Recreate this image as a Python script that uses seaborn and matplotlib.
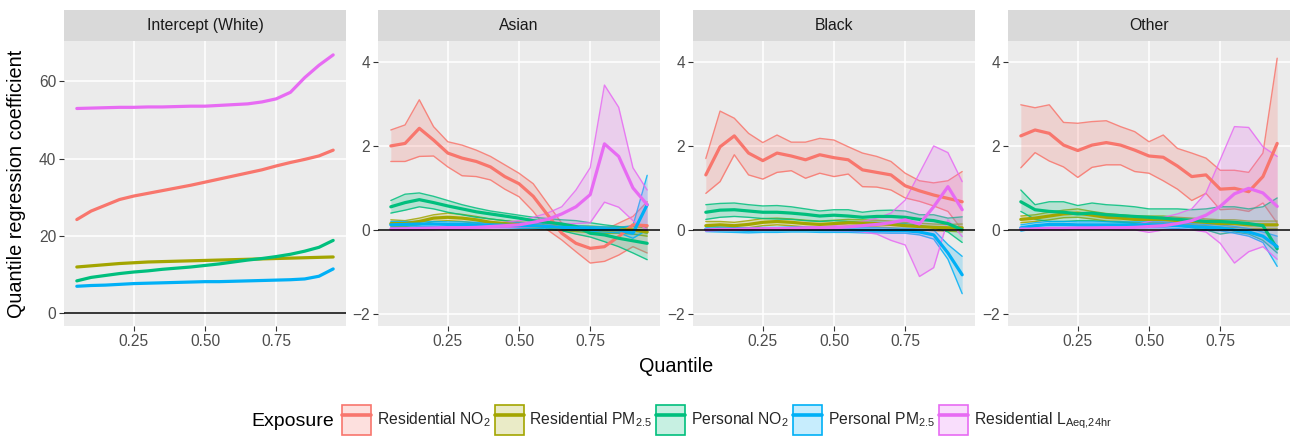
import numpy as np
import pandas as pd
import matplotlib
matplotlib.use("Agg")
import matplotlib.pyplot as plt
import seaborn as sns
from matplotlib.patches import Patch
from matplotlib.lines import Line2D
from matplotlib.legend_handler import HandlerTuple

# ---------------- data ----------------
quantiles = [0.05, 0.10, 0.15, 0.20, 0.25, 0.30, 0.35, 0.40, 0.45, 0.50,
             0.55, 0.60, 0.65, 0.70, 0.75, 0.80, 0.85, 0.90, 0.95]

facets = ["Intercept (White)", "Asian", "Black", "Other"]
exposures = ["Residential NO2", "Residential PM2.5", "Personal NO2",
             "Personal PM2.5", "Residential LAeq,24hr"]
legend_labels = ["Residential NO$_{2}$", "Residential PM$_{2.5}$", "Personal NO$_{2}$",
                 "Personal PM$_{2.5}$", "Residential L$_{Aeq{,}24hr}$"]
colors = ["#F8766D", "#A3A500", "#00BF7D", "#00B0F6", "#E76BF3"]

# Intercept (White) - lines only
white_res_no2 = [24.2, 26.4, 27.9, 29.4, 30.3, 31.0, 31.7, 32.4, 33.1, 33.9,
                 34.7, 35.5, 36.3, 37.1, 38.1, 39.0, 39.8, 40.7, 42.2]
white_res_pm = [11.9, 12.2, 12.5, 12.8, 13.0, 13.2, 13.3, 13.4, 13.5, 13.6,
                13.7, 13.8, 13.9, 14.0, 14.1, 14.2, 14.3, 14.4, 14.5]
white_per_no2 = [8.3, 9.2, 9.7, 10.2, 10.6, 10.9, 11.3, 11.6, 11.9, 12.3,
                 12.7, 13.2, 13.7, 14.1, 14.6, 15.2, 16.0, 17.0, 18.8]
white_per_pm = [6.9, 7.1, 7.2, 7.4, 7.6, 7.7, 7.8, 7.9, 8.0, 8.1,
                8.1, 8.2, 8.3, 8.4, 8.5, 8.6, 8.8, 9.5, 11.4]
white_laeq = [53.0, 53.1, 53.2, 53.3, 53.3, 53.4, 53.4, 53.5, 53.6, 53.6,
              53.8, 54.0, 54.2, 54.7, 55.5, 57.2, 61.0, 64.2, 66.9]

# Asian
asian_res_no2 = [2.0, 2.06, 2.42, 2.14, 1.83, 1.71, 1.63, 1.5, 1.27, 1.1,
                 0.8, 0.36, -0.08, -0.32, -0.44, -0.40, -0.16, 0.12, 0.1]
asian_res_no2_hi = [2.38, 2.5, 3.1, 2.46, 2.1, 2.02, 1.9, 1.75, 1.55, 1.35,
                    1.1, 0.63, 0.16, 0.02, 0.0, 0.0, 0.16, 0.32, 0.67]
asian_res_no2_lo = [1.63, 1.63, 1.75, 1.76, 1.5, 1.29, 1.27, 1.19, 0.97, 0.79,
                    0.44, 0.0, -0.24, -0.52, -0.79, -0.75, -0.6, -0.4, -0.55]
asian_res_pm = [0.15, 0.15, 0.2, 0.28, 0.3, 0.28, 0.24, 0.18, 0.15, 0.12,
                0.1, 0.08, 0.05, 0.03, 0.02, 0.0, 0.0, 0.0, -0.05]
asian_res_pm_hi = [0.24, 0.22, 0.28, 0.36, 0.4, 0.37, 0.32, 0.26, 0.22, 0.19,
                   0.17, 0.15, 0.12, 0.1, 0.09, 0.07, 0.07, 0.08, 0.05]
asian_res_pm_lo = [0.08, 0.08, 0.12, 0.2, 0.22, 0.2, 0.16, 0.11, 0.08, 0.05,
                   0.03, 0.01, -0.02, -0.04, -0.06, -0.08, -0.08, -0.1, -0.15]
asian_per_no2 = [0.55, 0.65, 0.72, 0.65, 0.57, 0.5, 0.43, 0.38, 0.33, 0.28,
                 0.22, 0.18, 0.14, 0.08, -0.08, -0.12, -0.2, -0.26, -0.32]
asian_per_no2_hi = [0.7, 0.85, 0.88, 0.8, 0.7, 0.6, 0.52, 0.45, 0.4, 0.35,
                    0.3, 0.27, 0.24, 0.22, 0.17, 0.12, 0.08, 0.0, -0.08]
asian_per_no2_lo = [0.4, 0.47, 0.55, 0.5, 0.42, 0.36, 0.3, 0.26, 0.22, 0.17,
                    0.12, 0.05, -0.02, -0.1, -0.17, -0.28, -0.4, -0.55, -0.71]
asian_per_pm = [0.12, 0.13, 0.14, 0.14, 0.13, 0.13, 0.12, 0.12, 0.11, 0.1,
                0.1, 0.08, 0.06, 0.05, 0.03, 0.02, 0.0, -0.08, 0.6]
asian_per_pm_hi = [0.2, 0.2, 0.2, 0.2, 0.19, 0.19, 0.18, 0.18, 0.17, 0.16,
                   0.16, 0.14, 0.12, 0.1, 0.08, 0.07, 0.06, 0.1, 1.3]
asian_per_pm_lo = [0.05, 0.06, 0.08, 0.08, 0.07, 0.07, 0.06, 0.06, 0.05, 0.04,
                   0.04, 0.02, 0.0, -0.01, -0.03, -0.05, -0.07, -0.2, 0.0]
asian_laeq = [0.02, 0.02, 0.03, 0.03, 0.04, 0.05, 0.06, 0.08, 0.1, 0.12,
              0.18, 0.25, 0.38, 0.55, 0.84, 2.05, 1.75, 1.0, 0.6]
asian_laeq_hi = [0.04, 0.05, 0.06, 0.07, 0.08, 0.1, 0.12, 0.15, 0.18, 0.22,
                 0.3, 0.4, 0.55, 0.95, 1.48, 3.45, 2.92, 1.48, 0.95]
asian_laeq_lo = [0.0, 0.0, 0.0, 0.01, 0.02, 0.02, 0.03, 0.04, 0.05, 0.06,
                 0.08, 0.1, 0.14, 0.15, 0.17, 0.66, 0.54, 0.22, 0.0]

# Black
black_res_no2 = [1.31, 1.98, 2.24, 1.83, 1.65, 1.83, 1.76, 1.67, 1.79, 1.72,
                 1.67, 1.43, 1.37, 1.31, 1.05, 0.93, 0.83, 0.75, 0.67]
black_res_no2_hi = [1.7, 2.83, 2.66, 2.3, 2.08, 2.26, 2.09, 2.09, 2.18, 2.14,
                    1.98, 1.83, 1.75, 1.63, 1.35, 1.17, 1.12, 1.17, 1.39]
black_res_no2_lo = [0.87, 1.15, 1.79, 1.31, 1.21, 1.37, 1.41, 1.23, 1.35, 1.27,
                    1.33, 1.03, 1.02, 0.95, 0.76, 0.68, 0.57, 0.44, 0.0]
black_res_pm = [0.1, 0.12, 0.1, 0.13, 0.18, 0.2, 0.18, 0.15, 0.13, 0.15,
                0.17, 0.16, 0.15, 0.13, 0.1, 0.08, 0.06, 0.05, 0.05]
black_res_pm_hi = [0.2, 0.2, 0.18, 0.22, 0.27, 0.28, 0.26, 0.23, 0.21, 0.23,
                   0.25, 0.24, 0.23, 0.21, 0.18, 0.16, 0.14, 0.13, 0.14]
black_res_pm_lo = [0.02, 0.04, 0.03, 0.05, 0.1, 0.12, 0.1, 0.07, 0.05, 0.07,
                   0.09, 0.08, 0.07, 0.05, 0.02, 0.0, -0.02, -0.03, -0.05]
black_per_no2 = [0.42, 0.47, 0.48, 0.45, 0.42, 0.42, 0.4, 0.37, 0.33, 0.35,
                 0.33, 0.3, 0.32, 0.32, 0.3, 0.25, 0.22, 0.15, 0.0]
black_per_no2_hi = [0.6, 0.63, 0.64, 0.6, 0.57, 0.58, 0.55, 0.5, 0.45, 0.48,
                    0.48, 0.42, 0.46, 0.47, 0.45, 0.36, 0.36, 0.28, 0.31]
black_per_no2_lo = [0.25, 0.3, 0.32, 0.3, 0.27, 0.26, 0.25, 0.22, 0.2, 0.22,
                    0.2, 0.18, 0.18, 0.17, 0.15, 0.1, 0.05, -0.05, -0.3]
black_per_pm = [0.02, 0.01, 0.0, -0.01, 0.0, 0.0, 0.01, 0.01, 0.0, 0.0,
                0.0, -0.01, -0.01, -0.02, -0.02, -0.05, -0.12, -0.55, -1.07]
black_per_pm_hi = [0.08, 0.07, 0.06, 0.05, 0.06, 0.06, 0.07, 0.07, 0.06, 0.06,
                   0.06, 0.05, 0.05, 0.04, 0.04, 0.02, 0.0, -0.35, -0.63]
black_per_pm_lo = [-0.04, -0.05, -0.06, -0.07, -0.06, -0.06, -0.05, -0.05, -0.06, -0.06,
                   -0.06, -0.07, -0.07, -0.08, -0.08, -0.12, -0.22, -0.7, -1.52]
black_laeq = [0.0, 0.01, 0.01, 0.02, 0.02, 0.03, 0.03, 0.04, 0.04, 0.05,
              0.07, 0.1, 0.13, 0.17, 0.24, 0.14, 0.55, 1.03, 0.48]
black_laeq_hi = [0.02, 0.03, 0.03, 0.04, 0.05, 0.05, 0.06, 0.07, 0.08, 0.1,
                 0.15, 0.2, 0.28, 0.4, 0.71, 1.35, 2.0, 1.84, 1.15]
black_laeq_lo = [-0.02, -0.01, -0.01, 0.0, 0.0, 0.0, 0.0, -0.01, -0.01, -0.02,
                 -0.03, -0.05, -0.1, -0.25, -0.36, -1.11, -0.9, 0.24, -0.16]

# Other
other_res_no2 = [2.24, 2.38, 2.3, 2.02, 1.89, 2.02, 2.08, 2.02, 1.9, 1.76,
                 1.73, 1.52, 1.27, 1.31, 0.97, 0.99, 0.91, 1.27, 2.06]
other_res_no2_hi = [2.98, 2.91, 2.98, 2.56, 2.54, 2.58, 2.6, 2.46, 2.34, 2.1,
                    2.26, 1.94, 1.83, 1.71, 1.42, 1.42, 1.37, 1.83, 4.09]
other_res_no2_lo = [1.48, 1.84, 1.64, 1.5, 1.25, 1.49, 1.55, 1.55, 1.39, 1.35,
                    1.17, 0.97, 0.7, 0.87, 0.48, 0.5, 0.44, 0.64, 0.16]
other_res_pm = [0.25, 0.28, 0.33, 0.38, 0.4, 0.35, 0.3, 0.28, 0.25, 0.25,
                0.25, 0.22, 0.2, 0.18, 0.15, 0.15, 0.12, 0.12, 0.12]
other_res_pm_hi = [0.33, 0.36, 0.42, 0.47, 0.5, 0.44, 0.39, 0.36, 0.33, 0.33,
                   0.33, 0.3, 0.28, 0.26, 0.24, 0.24, 0.21, 0.21, 0.21]
other_res_pm_lo = [0.17, 0.2, 0.24, 0.29, 0.3, 0.26, 0.21, 0.2, 0.17, 0.17,
                   0.17, 0.14, 0.12, 0.1, 0.06, 0.06, 0.03, 0.03, 0.03]
other_per_no2 = [0.67, 0.48, 0.44, 0.42, 0.38, 0.4, 0.36, 0.34, 0.32, 0.3,
                 0.28, 0.25, 0.23, 0.2, 0.2, 0.18, 0.15, 0.1, -0.45]
other_per_no2_hi = [0.95, 0.6, 0.67, 0.67, 0.58, 0.64, 0.6, 0.58, 0.55, 0.5,
                    0.5, 0.5, 0.48, 0.5, 0.55, 0.55, 0.5, 0.55, 0.76]
other_per_no2_lo = [0.44, 0.25, 0.2, 0.2, 0.22, 0.22, 0.2, 0.18, 0.15, 0.13,
                    0.12, 0.1, 0.05, 0.0, -0.1, -0.05, -0.1, -0.25, -0.55]
other_per_pm = [0.05, 0.1, 0.13, 0.13, 0.12, 0.12, 0.12, 0.12, 0.12, 0.12,
                0.12, 0.1, 0.08, 0.06, 0.05, 0.0, -0.05, -0.15, -0.4]
other_per_pm_hi = [0.12, 0.17, 0.2, 0.2, 0.19, 0.19, 0.19, 0.19, 0.19, 0.19,
                   0.19, 0.17, 0.15, 0.13, 0.12, 0.08, 0.03, -0.05, -0.15]
other_per_pm_lo = [-0.03, 0.03, 0.06, 0.06, 0.05, 0.05, 0.05, 0.05, 0.05, 0.05,
                   0.05, 0.03, 0.01, -0.01, -0.02, -0.08, -0.15, -0.3, -0.87]
other_laeq = [0.02, 0.02, 0.03, 0.03, 0.04, 0.04, 0.05, 0.05, 0.06, 0.08,
              0.1, 0.15, 0.22, 0.35, 0.56, 0.86, 0.99, 0.88, 0.56]
other_laeq_hi = [0.05, 0.05, 0.06, 0.06, 0.07, 0.08, 0.09, 0.1, 0.12, 0.2,
                 0.3, 0.38, 0.5, 0.88, 1.67, 2.46, 2.44, 1.98, 1.75]
other_laeq_lo = [0.0, 0.0, 0.0, 0.0, 0.01, 0.01, 0.01, 0.0, 0.0, -0.06,
                 0.0, 0.0, 0.0, -0.05, -0.32, -0.79, -0.52, -0.4, -0.7]

white_ticks = [0, 20, 40, 60]
group_ticks = [-2, 0, 2, 4]
x_ticks = [0.25, 0.50, 0.75]
x_ticklabels = ["0.25", "0.50", "0.75"]

# ---------------- build long table ----------------
series = {
    "Intercept (White)": [(white_res_no2, None, None), (white_res_pm, None, None),
                          (white_per_no2, None, None), (white_per_pm, None, None),
                          (white_laeq, None, None)],
    "Asian": [(asian_res_no2, asian_res_no2_lo, asian_res_no2_hi),
              (asian_res_pm, asian_res_pm_lo, asian_res_pm_hi),
              (asian_per_no2, asian_per_no2_lo, asian_per_no2_hi),
              (asian_per_pm, asian_per_pm_lo, asian_per_pm_hi),
              (asian_laeq, asian_laeq_lo, asian_laeq_hi)],
    "Black": [(black_res_no2, black_res_no2_lo, black_res_no2_hi),
              (black_res_pm, black_res_pm_lo, black_res_pm_hi),
              (black_per_no2, black_per_no2_lo, black_per_no2_hi),
              (black_per_pm, black_per_pm_lo, black_per_pm_hi),
              (black_laeq, black_laeq_lo, black_laeq_hi)],
    "Other": [(other_res_no2, other_res_no2_lo, other_res_no2_hi),
              (other_res_pm, other_res_pm_lo, other_res_pm_hi),
              (other_per_no2, other_per_no2_lo, other_per_no2_hi),
              (other_per_pm, other_per_pm_lo, other_per_pm_hi),
              (other_laeq, other_laeq_lo, other_laeq_hi)],
}
rows = []
for f in facets:
    for e, (est, lo, hi) in zip(exposures, series[f]):
        for k, q in enumerate(quantiles):
            rows.append(dict(facet=f, exposure=e, q=q, est=est[k],
                             lo=np.nan if lo is None else lo[k],
                             hi=np.nan if hi is None else hi[k]))
df = pd.DataFrame(rows)
palette = dict(zip(exposures, colors))

# ---------------- figure ----------------
sns.set_theme(style="darkgrid")
plt.rcParams["font.family"] = ["Liberation Sans", "DejaVu Sans"]
plt.rcParams["mathtext.default"] = "regular"

W, H = 1293, 438
fig = plt.figure(figsize=(W / 100, H / 100), dpi=100)
fig.patch.set_facecolor("white")

panel_left = [64, 378, 693, 1008]
panel_w = 282
panel_top, panel_bot = 41, 326
strip_top = 10

for i, f in enumerate(facets):
    ax = fig.add_axes([panel_left[i] / W, 1 - panel_bot / H,
                       panel_w / W, (panel_bot - panel_top) / H])
    ax.set_facecolor("#EBEBEB")
    sub = df[df.facet == f]
    for e in exposures:
        s = sub[sub.exposure == e]
        if s["lo"].notna().all():
            ax.fill_between(s["q"], s["lo"], s["hi"], color=palette[e],
                            alpha=0.22, lw=0, zorder=2)
            ax.plot(s["q"], s["lo"], color=palette[e], lw=1.0, alpha=0.85, zorder=2)
            ax.plot(s["q"], s["hi"], color=palette[e], lw=1.0, alpha=0.85, zorder=2)
    sns.lineplot(data=sub, x="q", y="est", hue="exposure", hue_order=exposures,
                 palette=palette, estimator=None, legend=False, lw=2.3, ax=ax,
                 zorder=3)
    ax.axhline(0, color="black", lw=1.1, zorder=4)
    ax.set_xlim(0.005, 0.995)
    if i == 0:
        ax.set_ylim(-3.4, 70.5)
        ax.set_yticks(white_ticks)
    else:
        ax.set_ylim(-2.29, 4.5)
        ax.set_yticks(group_ticks)
    ax.set_xticks(x_ticks)
    ax.set_xticklabels(x_ticklabels)
    ax.grid(True, color="white", lw=1.1)
    ax.set_axisbelow(True)
    for sp in ax.spines.values():
        sp.set_visible(False)
    ax.tick_params(axis="both", length=3.5, width=0.8, color="#333333",
                   labelcolor="#4D4D4D", labelsize=11.2, pad=2,
                   bottom=True, left=True)
    ax.set_xlabel("")
    ax.set_ylabel("")
    # strip
    sax = fig.add_axes([panel_left[i] / W, 1 - panel_top / H,
                        panel_w / W, (panel_top - strip_top) / H])
    sax.set_facecolor("#D9D9D9")
    sax.grid(False)
    sax.set_xticks([])
    sax.set_yticks([])
    for sp in sax.spines.values():
        sp.set_visible(False)
    sax.text(0.5, 0.5, f, ha="center", va="center", fontsize=11.3,
             color="#1A1A1A", transform=sax.transAxes)

fig.text(676 / W, 1 - 367 / H, "Quantile", ha="center", va="center",
         fontsize=14.3, color="black")
fig.text(17 / W, 1 - 184 / H, "Quantile regression coefficient", ha="center",
         va="center", rotation=90, fontsize=14.3, color="black")

# legend
handles = []
for c in colors:
    p = Patch(facecolor=matplotlib.colors.to_rgba(c, 0.22), edgecolor=c, lw=1.2)
    l = Line2D([0], [0], color=c, lw=2.6)
    handles.append((p, l))
fig.text(251 / W, 1 - 421 / H, "Exposure", ha="left", va="center",
         fontsize=14, color="black")
leg = fig.legend(handles, legend_labels, ncol=5, loc="center left",
                 bbox_to_anchor=(342 / W, 1 - 420 / H), frameon=False,
                 handler_map={tuple: HandlerTuple(ndivide=1, pad=0)},
                 handlelength=1.85, handleheight=2.5, handletextpad=0.35,
                 columnspacing=0.28, fontsize=11.3, borderaxespad=0,
                 borderpad=0)

fig.savefig("out.png", dpi=100, facecolor="white")
